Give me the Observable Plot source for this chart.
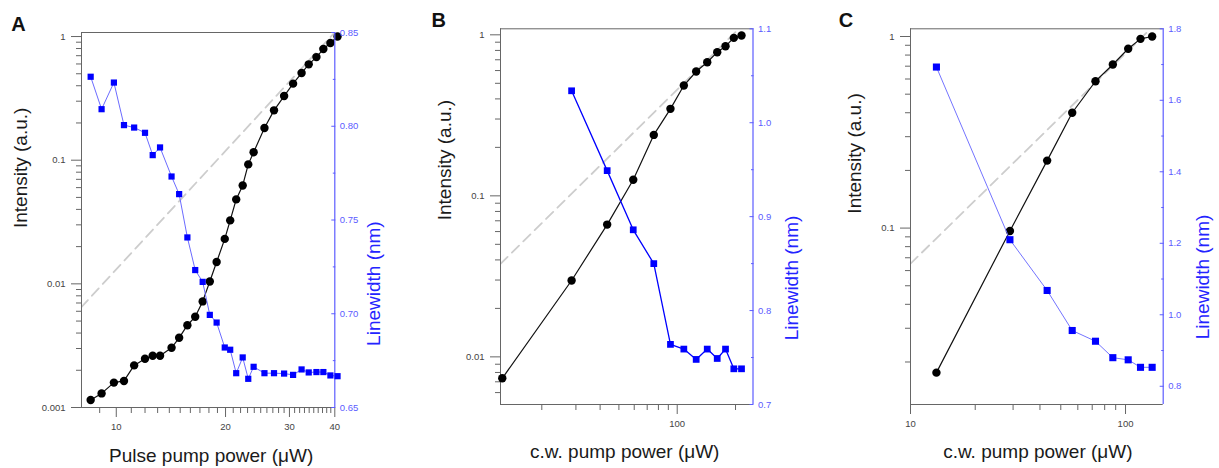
<!DOCTYPE html>
<html><head><meta charset="utf-8">
<script src="https://cdn.jsdelivr.net/npm/d3@7"></script>
<script src="https://cdn.jsdelivr.net/npm/@observablehq/plot@0.6"></script>
<style>
body{margin:0;background:#fff;}
#root{position:relative;width:1219px;height:468px;overflow:hidden;}
</style></head><body><div id="root"></div>
<script>
// ---------- DATA ----------
// Panel A: pulse pump
const powerA = [8.50, 9.11, 9.85, 10.5, 11.2, 12.0, 12.6, 13.2, 14.2, 14.9, 15.7, 16.5, 17.3, 18.1, 18.9, 19.9, 20.6, 21.4, 22.3, 23.1, 23.9, 25.6, 27.2, 29.0, 30.7, 32.4, 33.9, 35.6, 37.2, 38.9, 40.7];
const intensityA = [0.00115, 0.00130, 0.00159, 0.00164, 0.00219, 0.00248, 0.00262, 0.00262, 0.00304, 0.00366, 0.00463, 0.00542, 0.00721, 0.01045, 0.0150, 0.0231, 0.0326, 0.0482, 0.0625, 0.0925, 0.116, 0.182, 0.253, 0.330, 0.416, 0.507, 0.596, 0.682, 0.792, 0.886, 1.0];
const linewidthA = [0.8264, 0.8091, 0.8233, 0.8006, 0.7993, 0.7965, 0.7846, 0.7887, 0.7732, 0.7638, 0.7407, 0.7233, 0.7170, 0.6994, 0.6953, 0.6820, 0.6808, 0.6683, 0.6767, 0.6653, 0.6717, 0.6683, 0.6683, 0.6681, 0.6674, 0.6703, 0.6687, 0.6689, 0.6689, 0.6671, 0.6667];
const guideA = [{p: 8, v: 0.00644}, {p: 40, v: 1.08}];

// Panel B: c.w. pump
const powerB = [12.5, 28.5, 43.5, 59.3, 75.7, 92.3, 108.2, 125.3, 142.9, 160.9, 177.6, 196, 214.8];
const intensityB = [0.00736, 0.0298, 0.0663, 0.126, 0.239, 0.347, 0.484, 0.592, 0.676, 0.780, 0.850, 0.957, 0.99];
const lwPowerB = [28.5, 43.5, 59.3, 75.7, 92.3, 108.2, 125.3, 142.9, 160.9, 177.6, 196, 214.8];
const linewidthB = [1.034, 0.949, 0.886, 0.850, 0.764, 0.759, 0.748, 0.759, 0.749, 0.759, 0.738, 0.738];
const guideB = [{p: 12.24, v: 0.0378}, {p: 208, v: 1.09}];

// Panel C: c.w. pump
const powerC = [13.2, 29.0, 43.2, 56.5, 72.5, 87.3, 102.9, 117.4, 133];
const intensityC = [0.0176, 0.0966, 0.225, 0.400, 0.584, 0.714, 0.863, 0.972, 1.0];
const linewidthC = [1.693, 1.210, 1.068, 0.956, 0.926, 0.880, 0.874, 0.853, 0.853];
const guideC = [{p: 10, v: 0.0652}, {p: 130.7, v: 1.097}];

// Tick values
const xMajorA = [10, 20, 30, 40];
const xMinorA = [9, 11, 12, 13, 14, 15, 16, 17, 18, 19, 21, 22, 23, 24, 25, 26, 27, 28, 29, 31, 32, 33, 34, 35, 36, 37, 38, 39];
const yMajorA = [0.001, 0.01, 0.1, 1];
const rMajorA = [0.65, 0.70, 0.75, 0.80, 0.85];
const rMinorA = [0.675, 0.725, 0.775, 0.825];

const xMajorB = [100];
const xMinorB = [20, 30, 40, 50, 60, 70, 80, 90, 200];
const yMajorB = [0.01, 0.1, 1];
const rMajorB = [0.7, 0.8, 0.9, 1.0, 1.1];
const rMinorB = [0.75, 0.85, 0.95, 1.05];

const xMajorC = [10, 100];
const xMinorC = [20, 30, 40, 50, 60, 70, 80, 90];
const yMajorC = [0.1, 1];
const rMajorC = [0.8, 1.0, 1.2, 1.4, 1.6, 1.8];
const rMinorC = [0.9, 1.1, 1.3, 1.5, 1.7];

const yTitle = "Intensity (a.u.)";
const rTitle = "Linewidth (nm)";
const xTitles = ["Pulse pump power (μW)", "c.w. pump power (μW)", "c.w. pump power (μW)"];
const letters = ["A", "B", "C"];

// ---------- helpers ----------
function logMinors(lo, hi) {
  const out = [];
  for (let e = -4; e <= 3; e++) for (let m = 2; m <= 9; m++) {
    const v = m * Math.pow(10, e);
    if (v > lo && v < hi) out.push(+v.toPrecision(3));
  }
  return out;
}

const FONT = "'Liberation Sans', Arial, Helvetica, sans-serif";
const GRAY = "#666";
const AXBLUE = "#5c5cff";

function panel(cfg) {
  const H = 468;
  const common = {
    width: cfg.width, height: H,
    marginLeft: cfg.mL, marginRight: cfg.mR, marginTop: cfg.mT, marginBottom: cfg.mB,
    style: {fontFamily: FONT, background: "transparent", overflow: "visible"}
  };
  const main = cfg.power.map((p, i) => ({p, v: cfg.intensity[i]}));
  const blue = cfg.lwPower.map((p, i) => ({p, v: cfg.linewidth[i]}));
  const yMinor = logMinors(cfg.yDomain[0], cfg.yDomain[1]);

  const p1 = Plot.plot({
    ...common,
    x: {type: "log", domain: cfg.xDomain},
    y: {type: "log", domain: cfg.yDomain},
    marks: [
      Plot.line(cfg.guide, {x: "p", y: "v", stroke: "#cdcdcd", strokeWidth: 1.8, strokeDasharray: "10,6", clip: true}),
      Plot.ruleY([cfg.yDomain[0]], {stroke: GRAY}),
      Plot.ruleY([cfg.yDomain[1]], {stroke: GRAY}),
      Plot.ruleX([cfg.xDomain[0]], {stroke: GRAY}),
      Plot.axisX(cfg.xMinor, {tickSize: 6, tickFormat: () => "", stroke: GRAY, label: null}),
      Plot.axisX(cfg.xMajor, {tickSize: 10, tickPadding: 6, tickFormat: d => String(d), fontSize: 9.5, fill: "#444", stroke: GRAY, label: null}),
      Plot.axisY(yMinor, {tickSize: 5, tickFormat: () => "", stroke: GRAY, label: null}),
      Plot.axisY(cfg.yMajor, {tickSize: 10, tickPadding: 6, tickFormat: d => String(d), fontSize: 9.5, fill: "#444", stroke: GRAY, label: null}),
      Plot.line(main, {x: "p", y: "v", stroke: "#111", strokeWidth: 1.2}),
      Plot.dot(main, {x: "p", y: "v", r: 4.2, fill: "#000"}),
      Plot.text([cfg.xTitle], {text: d => d, frameAnchor: "bottom", dx: cfg.xtDx, dy: cfg.xtDy, lineAnchor: "bottom", fontSize: 19, fill: "#1a1a1a"}),
      Plot.text([yTitle], {text: d => d, frameAnchor: "left", rotate: -90, dx: cfg.ytDx, dy: cfg.ytDy, fontSize: 19, fill: "#1a1a1a"}),
      Plot.text([cfg.letter], {text: d => d, frameAnchor: "top-left", dx: cfg.lDx, dy: cfg.lDy, textAnchor: "middle", lineAnchor: "bottom", fontSize: 20, fontWeight: "bold", fill: "#111"})
    ]
  });

  const p2 = Plot.plot({
    ...common,
    x: {type: "log", domain: cfg.xDomain, axis: null},
    y: {domain: cfg.rDomain},
    marks: [
      Plot.ruleX([cfg.xDomain[1]], {stroke: AXBLUE, strokeWidth: 1.2}),
      Plot.axisY(cfg.rMinor, {anchor: "right", tickSize: -2.5, tickPadding: 0, tickFormat: () => "", stroke: AXBLUE, label: null}),
      Plot.axisY(cfg.rMajor, {anchor: "right", tickSize: -4, tickPadding: 9, tickFormat: cfg.rFmt, fontSize: 9.5, fill: AXBLUE, stroke: AXBLUE, label: null}),
      Plot.line(blue, {x: "p", y: "v", stroke: cfg.blueLine, strokeWidth: cfg.blueWidth}),
      Plot.dot(blue, {x: "p", y: "v", symbol: "square", r: cfg.sqR, fill: "#0000ff"}),
      Plot.text([rTitle], {text: d => d, frameAnchor: "right", rotate: -90, dx: cfg.rtDx, dy: cfg.rtDy, fontSize: 19, fill: "#2424ff"})
    ]
  });

  for (const s of [p1, p2]) {
    s.style.position = "absolute";
    s.style.left = cfg.left + "px";
    s.style.top = "0px";
    document.getElementById("root").appendChild(s);
  }
}

panel({
  left: 0, width: 406, mL: 81, mR: 71.7, mT: 32, mB: 61,
  xDomain: [8.02, 40], yDomain: [0.001, 1.078], rDomain: [0.65, 0.85],
  xMajor: xMajorA, xMinor: xMinorA, yMajor: yMajorA, rMajor: rMajorA, rMinor: rMinorA,
  rFmt: d => d.toFixed(2),
  power: powerA, intensity: intensityA, lwPower: powerA, linewidth: linewidthA, guide: guideA,
  letter: letters[0], xTitle: xTitles[0],
  xtDx: 3, xtDy: 54, ytDx: -61, ytDy: 8, rtDx: 38.7, rtDy: 1.3, lDx: -63, lDy: -1.3,
  blueLine: "#6b6bff", blueWidth: 1, sqR: 3.5
});

panel({
  left: 406, width: 406, mL: 94, mR: 59.5, mT: 28.3, mB: 64,
  xDomain: [12.24, 246.2], yDomain: [0.00506, 1.09], rDomain: [0.7, 1.1],
  xMajor: xMajorB, xMinor: xMinorB, yMajor: yMajorB, rMajor: rMajorB, rMinor: rMinorB,
  rFmt: d => d.toFixed(1),
  power: powerB, intensity: intensityB, lwPower: lwPowerB, linewidth: linewidthB, guide: guideB,
  letter: letters[1], xTitle: xTitles[1],
  xtDx: -2, xtDy: 53.7, ytDx: -56, ytDy: 3.6, rtDx: 39, rtDy: -1, lDx: -61.7, lDy: -2.3,
  blueLine: "#0000ff", blueWidth: 1.3, sqR: 3.8
});

panel({
  left: 812, width: 407, mL: 98, mR: 56.3, mT: 28.3, mB: 64,
  xDomain: [10, 149.7], yDomain: [0.0120, 1.097], rDomain: [0.749, 1.8],
  xMajor: xMajorC, xMinor: xMinorC, yMajor: yMajorC, rMajor: rMajorC, rMinor: rMinorC,
  rFmt: d => d.toFixed(1),
  power: powerC, intensity: intensityC, lwPower: powerC, linewidth: linewidthC, guide: guideC,
  letter: letters[2], xTitle: xTitles[2],
  xtDx: 1, xtDy: 53.7, ytDx: -55.5, ytDy: -3, rtDx: 40, rtDy: -2, lDx: -64.5, lDy: -2.3,
  blueLine: "#7474ff", blueWidth: 1, sqR: 4
});
</script>
</body></html>
